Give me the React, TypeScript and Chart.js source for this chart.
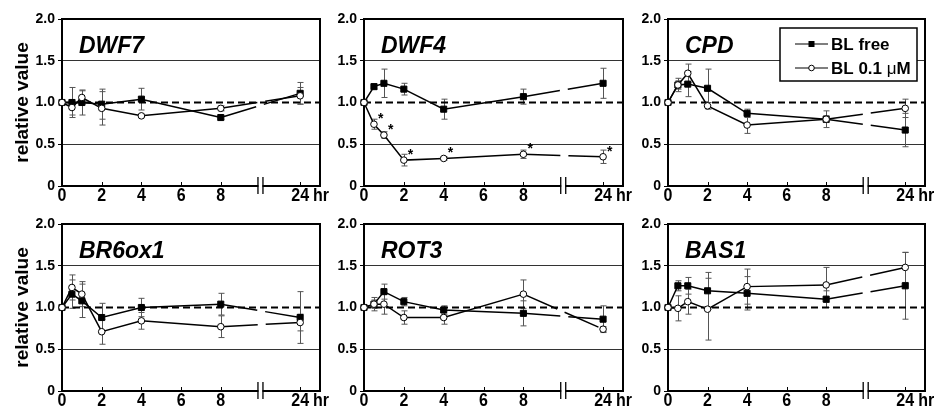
import React, { useEffect, useRef } from 'react';
import { Chart, registerables } from 'chart.js';

Chart.register(...registerables);

const FONT = '"Liberation Sans", Arial, Helvetica, sans-serif';

// ---- axis definitions ----
const TIMES = [0, 0.5, 1, 2, 4, 8, 24];
const X_TICK_VALUES = [0, 2, 4, 6, 8, 24];
const LAST_TIME = 24;
const LAST_TIME_POSITION = 12; // 24 h sits here on the broken axis
const AXIS_BREAK_AT = 10;
const X_MAX = 13;
const Y_TICKS = [0, 0.5, 1, 1.5, 2];
const Y_GRID_LINES = [0.5, 1.5];
const REF_LEVEL = 1;
const X_UNIT = 'hr';
const Y_TITLE = 'relative value';
const SERIES_LABELS = ['BL free', 'BL 0.1 μM'];

// ---- data (relative expression, mean ± error) ----
const DWF7_FREE = [1.0, 1.0, 1.0, 0.98, 1.04, 0.82, 1.11];
const DWF7_FREE_ERR = [0, 0.18, 0.15, 0.18, 0.13, 0.02, 0.13];
const DWF7_BL = [1.0, 0.94, 1.06, 0.93, 0.84, 0.93, 1.08];
const DWF7_BL_ERR = [0, 0.09, 0.08, 0.2, 0.02, 0.03, 0.1];

const DWF4_FREE = [1.0, 1.19, 1.23, 1.16, 0.92, 1.07, 1.23];
const DWF4_FREE_ERR = [0, 0.03, 0.17, 0.07, 0.12, 0.09, 0.18];
const DWF4_BL = [1.0, 0.74, 0.61, 0.31, 0.33, 0.38, 0.35];
const DWF4_BL_ERR = [0, 0.06, 0.04, 0.07, 0.02, 0.05, 0.08];
const DWF4_BL_SIG = [false, true, true, true, true, true, true];

const CPD_FREE = [1.0, 1.21, 1.22, 1.17, 0.87, 0.8, 0.67];
const CPD_FREE_ERR = [0, 0.05, 0.15, 0.23, 0.05, 0.04, 0.2];
const CPD_BL = [1.0, 1.21, 1.35, 0.96, 0.73, 0.8, 0.93];
const CPD_BL_ERR = [0, 0.08, 0.11, 0.04, 0.1, 0.1, 0.11];

const BR6OX1_FREE = [1.0, 1.16, 1.08, 0.88, 1.0, 1.04, 0.88];
const BR6OX1_FREE_ERR = [0, 0.17, 0.2, 0.17, 0.11, 0.13, 0.31];
const BR6OX1_BL = [1.0, 1.24, 1.16, 0.71, 0.84, 0.77, 0.82];
const BR6OX1_BL_ERR = [0, 0.15, 0.15, 0.15, 0.1, 0.13, 0.1];

const ROT3_FREE = [1.0, 1.04, 1.19, 1.07, 0.97, 0.93, 0.86];
const ROT3_FREE_ERR = [0, 0.05, 0.09, 0.05, 0.05, 0.15, 0.16];
const ROT3_BL = [1.0, 1.04, 1.04, 0.88, 0.88, 1.16, 0.74];
const ROT3_BL_ERR = [0, 0.08, 0.12, 0.08, 0.08, 0.17, 0.03];

const BAS1_FREE = [1.0, 1.26, 1.26, 1.2, 1.17, 1.1, 1.26];
const BAS1_FREE_ERR = [0, 0.06, 0.1, 0.22, 0.2, 0.1, 0.4];
const BAS1_BL = [1.0, 0.99, 1.07, 0.98, 1.25, 1.27, 1.48];
const BAS1_BL_ERR = [0, 0.15, 0.15, 0.37, 0.21, 0.21, 0.18];

const NO_SIG = [false, false, false, false, false, false, false];

const xPos = (t: number) => (t === LAST_TIME ? LAST_TIME_POSITION : t);
const xLabel = (v: number) => (v === LAST_TIME_POSITION ? String(LAST_TIME) : String(v));

type PanelProps = {
  gene: string;
  free: number[];
  freeErr: number[];
  bl: number[];
  blErr: number[];
  sig: boolean[];
  legend: boolean;
  yTitle: boolean;
  left: number;
  top: number;
  width: number;
  height: number;
  axisWidth: number;
  padRight: number;
};

function drawLegend(ctx: CanvasRenderingContext2D, area: any) {
  const bw = 137;
  const bh = 53;
  const bx = area.right - 8 - bw;
  const by = area.top + 9;
  ctx.save();
  ctx.fillStyle = '#fff';
  ctx.fillRect(bx, by, bw, bh);
  ctx.strokeStyle = '#000';
  ctx.lineWidth = 1.5;
  ctx.strokeRect(bx, by, bw, bh);
  const rows = [by + 16, by + 40];
  rows.forEach((ry, i) => {
    ctx.strokeStyle = '#000';
    ctx.lineWidth = 1.2;
    ctx.beginPath();
    ctx.moveTo(bx + 15, ry);
    ctx.lineTo(bx + 48, ry);
    ctx.stroke();
    if (i === 0) {
      ctx.fillStyle = '#000';
      ctx.fillRect(bx + 31.5 - 3, ry - 3, 6, 6);
    } else {
      ctx.fillStyle = '#fff';
      ctx.beginPath();
      ctx.arc(bx + 31.5, ry, 2.8, 0, Math.PI * 2);
      ctx.fill();
      ctx.lineWidth = 1;
      ctx.stroke();
    }
    const label = SERIES_LABELS[i];
    ctx.fillStyle = '#000';
    ctx.textBaseline = 'middle';
    ctx.textAlign = 'left';
    let x = bx + 51;
    const parts = label.split('μ');
    parts.forEach((part, k) => {
      ctx.font = `bold 17px ${FONT}`;
      ctx.fillText(part, x, ry + 1);
      x += ctx.measureText(part).width;
      if (k < parts.length - 1) {
        ctx.font = `17px ${FONT}`;
        ctx.fillText('μ', x, ry + 1);
        x += ctx.measureText('μ').width;
      }
    });
  });
  ctx.restore();
}

function Panel(p: PanelProps) {
  const ref = useRef<HTMLCanvasElement | null>(null);
  useEffect(() => {
    if (!ref.current) return;
    const pts = (vals: number[]) => vals.map((v, i) => ({ x: xPos(TIMES[i]), y: v }));
    const gapDash = (ctx: any) => (ctx.p0DataIndex === TIMES.length - 2 ? [37, 8] : undefined);

    const decor = {
      id: 'decor',
      beforeDatasetsDraw(chart: any) {
        const ctx = chart.ctx as CanvasRenderingContext2D;
        const xs = chart.scales.x;
        const ys = chart.scales.y;
        ctx.save();
        ctx.strokeStyle = '#555';
        ctx.lineWidth = 1;
        const series = [
          { vals: p.free, errs: p.freeErr },
          { vals: p.bl, errs: p.blErr },
        ];
        series.forEach((s) => {
          s.vals.forEach((v, i) => {
            const e = s.errs[i];
            if (!e) return;
            const x = Math.round(xs.getPixelForValue(xPos(TIMES[i]))) + 0.5;
            const yt = ys.getPixelForValue(v + e);
            const yb = ys.getPixelForValue(v - e);
            ctx.beginPath();
            ctx.moveTo(x, yt);
            ctx.lineTo(x, yb);
            ctx.moveTo(x - 3, yt);
            ctx.lineTo(x + 3, yt);
            ctx.moveTo(x - 3, yb);
            ctx.lineTo(x + 3, yb);
            ctx.stroke();
          });
        });
        ctx.restore();
      },
      afterDatasetsDraw(chart: any) {
        const ctx = chart.ctx as CanvasRenderingContext2D;
        const area = chart.chartArea;
        ctx.save();
        ctx.strokeStyle = '#000';
        ctx.lineWidth = 2;
        ctx.beginPath();
        ctx.moveTo(area.left + 1, area.top);
        ctx.lineTo(area.right, area.top);
        ctx.lineTo(area.right, area.bottom);
        ctx.lineTo(area.left, area.bottom);
        ctx.stroke();
        ctx.restore();
      },
      afterDraw(chart: any) {
        const ctx = chart.ctx as CanvasRenderingContext2D;
        const area = chart.chartArea;
        const xs = chart.scales.x;
        const ys = chart.scales.y;
        ctx.save();
        // left axis line (under the first markers it would hide them, so keep markers visible)
        ctx.strokeStyle = '#000';
        ctx.lineWidth = 2;
        ctx.beginPath();
        ctx.moveTo(area.left, area.top - 1);
        ctx.lineTo(area.left, area.bottom + 1);
        ctx.stroke();
        // inward x ticks
        ctx.lineWidth = 1;
        xs.ticks.forEach((t: any) => {
          const x = Math.round(xs.getPixelForValue(t.value)) + 0.5;
          ctx.beginPath();
          ctx.moveTo(x, area.bottom);
          ctx.lineTo(x, area.bottom - 4);
          ctx.stroke();
        });
        // axis break
        const bxp = xs.getPixelForValue(AXIS_BREAK_AT);
        ctx.fillStyle = '#fff';
        ctx.fillRect(bxp - 2, area.bottom - 2, 4, 4);
        ctx.lineWidth = 1.3;
        ctx.beginPath();
        ctx.moveTo(bxp - 2.5, area.bottom - 9);
        ctx.lineTo(bxp - 2.5, area.bottom + 8);
        ctx.moveTo(bxp + 2.5, area.bottom - 9);
        ctx.lineTo(bxp + 2.5, area.bottom + 8);
        ctx.stroke();
        // x tick labels (slightly tall lettering as in the figure)
        ctx.font = `bold 16px ${FONT}`;
        ctx.fillStyle = '#000';
        ctx.textBaseline = 'top';
        const labelY = area.bottom + 1;
        xs.ticks.forEach((t: any) => {
          const x = xs.getPixelForValue(t.value);
          const lab = xLabel(t.value);
          ctx.save();
          ctx.translate(x, labelY);
          ctx.scale(1, 1.13);
          ctx.textAlign = 'center';
          ctx.fillText(lab, 0, 0);
          if (t.value === LAST_TIME_POSITION) {
            ctx.textAlign = 'left';
            ctx.fillText(X_UNIT, ctx.measureText(lab).width / 2 + 4, 0);
          }
          ctx.restore();
        });
        // markers at t = 0 redrawn on top of the left axis
        const firstX = xs.getPixelForValue(xPos(TIMES[0]));
        ctx.fillStyle = '#fff';
        ctx.lineWidth = 1;
        ctx.beginPath();
        ctx.arc(firstX, ys.getPixelForValue(p.bl[0]), 3.3, 0, Math.PI * 2);
        ctx.fill();
        ctx.stroke();
        // gene name
        ctx.font = `italic bold 23px ${FONT}`;
        ctx.fillStyle = '#000';
        ctx.textAlign = 'left';
        ctx.textBaseline = 'alphabetic';
        ctx.fillText(p.gene, area.left + 17, area.top + 34);
        // significance marks
        ctx.font = `bold 14px ${FONT}`;
        ctx.textBaseline = 'middle';
        p.sig.forEach((s, i) => {
          if (!s) return;
          const x = xs.getPixelForValue(xPos(TIMES[i]));
          const y = ys.getPixelForValue(p.bl[i]);
          ctx.fillText('*', x + 4, y - 5);
        });
        if (p.legend) drawLegend(ctx, area);
        ctx.restore();
      },
    };

    const chart = new Chart(ref.current, {
      type: 'line',
      data: {
        datasets: [
          {
            label: SERIES_LABELS[1],
            data: pts(p.bl),
            borderColor: '#000',
            borderWidth: 1.5,
            pointStyle: 'circle',
            pointRadius: 3.3,
            pointBackgroundColor: '#fff',
            pointBorderColor: '#000',
            pointBorderWidth: 1,
            segment: { borderDash: gapDash },
            clip: false,
            order: 1,
          } as any,
          {
            label: SERIES_LABELS[0],
            data: pts(p.free),
            borderColor: '#000',
            borderWidth: 1.5,
            pointStyle: 'rect',
            pointRadius: 4.3,
            pointBackgroundColor: '#000',
            pointBorderColor: '#000',
            pointBorderWidth: 1,
            segment: { borderDash: gapDash },
            clip: false,
            order: 2,
          } as any,
          {
            label: 'ref',
            data: [
              { x: 0, y: REF_LEVEL },
              { x: X_MAX, y: REF_LEVEL },
            ],
            borderColor: '#000',
            borderWidth: 2,
            borderDash: [7, 4],
            pointRadius: 0,
            order: 3,
          } as any,
        ],
      },
      options: {
        animation: false,
        responsive: false,
        events: [],
        layout: { padding: { top: 19, right: p.padRight, left: 0, bottom: 0 } },
        plugins: { legend: { display: false }, tooltip: { enabled: false } },
        scales: {
          x: {
            type: 'linear',
            min: 0,
            max: X_MAX,
            afterBuildTicks: (s: any) => {
              s.ticks = X_TICK_VALUES.map((v) => ({ value: xPos(v) }));
            },
            afterFit: (s: any) => {
              s.height = 18;
            },
            ticks: {
              display: false,
              callback: (v: any) => xLabel(v),
            },
            grid: { display: false, drawTicks: false },
            border: { display: false },
          },
          y: {
            type: 'linear',
            min: 0,
            max: 2,
            afterBuildTicks: (s: any) => {
              s.ticks = Y_TICKS.map((v) => ({ value: v }));
            },
            afterFit: (s: any) => {
              s.width = p.axisWidth;
            },
            ticks: {
              callback: (v: any) => (v === 0 ? '0' : Number(v).toFixed(1)),
              font: { family: FONT, size: 14, weight: 'bold' },
              color: '#000',
              padding: 3,
            },
            grid: {
              color: (c: any) =>
                c.tick && Y_GRID_LINES.includes(c.tick.value) ? '#333' : 'rgba(0,0,0,0)',
              lineWidth: 1,
              drawTicks: true,
              tickLength: 4,
              tickColor: '#000',
            },
            border: { display: false },
            title: {
              display: p.yTitle,
              text: Y_TITLE,
              color: '#000',
              font: { family: FONT, size: 19, weight: 'bold' },
              padding: { top: 11, bottom: 0 },
            },
          },
        },
      } as any,
      plugins: [decor as any],
    });
    return () => chart.destroy();
  }, []);
  return (
    <canvas
      ref={ref}
      width={p.width}
      height={p.height}
      style={{ position: 'absolute', left: p.left, top: p.top, width: p.width, height: p.height }}
    />
  );
}

const COLS = [
  { left: 0, width: 336, axisWidth: 62, padRight: 16, yTitle: true },
  { left: 320, width: 317, axisWidth: 44, padRight: 14, yTitle: false },
  { left: 624, width: 314, axisWidth: 44, padRight: 13, yTitle: false },
];
const ROWS = [0, 205];

const PANELS = [
  { gene: 'DWF7', free: DWF7_FREE, freeErr: DWF7_FREE_ERR, bl: DWF7_BL, blErr: DWF7_BL_ERR, sig: NO_SIG, legend: false },
  { gene: 'DWF4', free: DWF4_FREE, freeErr: DWF4_FREE_ERR, bl: DWF4_BL, blErr: DWF4_BL_ERR, sig: DWF4_BL_SIG, legend: false },
  { gene: 'CPD', free: CPD_FREE, freeErr: CPD_FREE_ERR, bl: CPD_BL, blErr: CPD_BL_ERR, sig: NO_SIG, legend: true },
  { gene: 'BR6ox1', free: BR6OX1_FREE, freeErr: BR6OX1_FREE_ERR, bl: BR6OX1_BL, blErr: BR6OX1_BL_ERR, sig: NO_SIG, legend: false },
  { gene: 'ROT3', free: ROT3_FREE, freeErr: ROT3_FREE_ERR, bl: ROT3_BL, blErr: ROT3_BL_ERR, sig: NO_SIG, legend: false },
  { gene: 'BAS1', free: BAS1_FREE, freeErr: BAS1_FREE_ERR, bl: BAS1_BL, blErr: BAS1_BL_ERR, sig: NO_SIG, legend: false },
];

export default function App() {
  return (
    <div style={{ position: 'absolute', left: 0, top: 0, width: 938, height: 409, background: '#fff', overflow: 'hidden' }}>
      {PANELS.map((pn, i) => {
        const col = COLS[i % 3];
        const row = ROWS[Math.floor(i / 3)];
        return (
          <Panel
            key={pn.gene}
            {...pn}
            left={col.left}
            top={row}
            width={col.width}
            height={204}
            axisWidth={col.axisWidth}
            padRight={col.padRight}
            yTitle={col.yTitle}
          />
        );
      })}
    </div>
  );
}
